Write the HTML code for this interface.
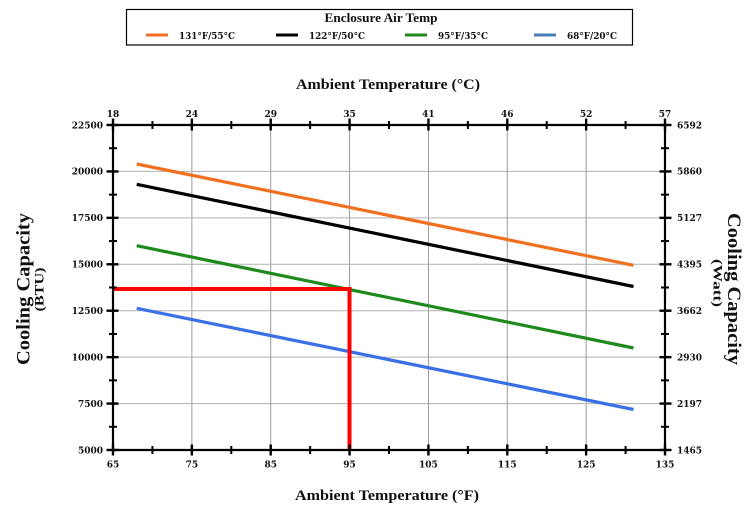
<!DOCTYPE html>
<html>
<head>
<meta charset="utf-8">
<style>
  html, body { margin:0; padding:0; background:#fff; }
  svg { display:block; }
  .tick { font-family: "DejaVu Serif", "Liberation Serif", serif; font-weight:bold; font-size:9px; fill:#111; }
  .ttl { font-family: "Liberation Serif", serif; font-weight:bold; fill:#111; }
</style>
</head>
<body>
<svg width="750" height="514" viewBox="0 0 750 514" xmlns="http://www.w3.org/2000/svg">
  <rect x="0" y="0" width="750" height="514" fill="#fff"/>

  <!-- Legend -->
  <rect x="126.5" y="9.5" width="506" height="35.5" fill="#fff" stroke="#000" stroke-width="1.2"/>
  <text class="ttl" x="381" y="22" font-size="13" text-anchor="middle" textLength="113" lengthAdjust="spacingAndGlyphs">Enclosure Air Temp</text>
  <line x1="146" y1="35" x2="168" y2="35" stroke="#F07020" stroke-width="3"/>
  <text class="tick" x="179" y="39" font-size="8.5" textLength="56" lengthAdjust="spacingAndGlyphs">131°F/55°C</text>
  <line x1="276" y1="35" x2="298" y2="35" stroke="#000" stroke-width="3"/>
  <text class="tick" x="309" y="39" font-size="8.5" textLength="56" lengthAdjust="spacingAndGlyphs">122°F/50°C</text>
  <line x1="405" y1="35" x2="427" y2="35" stroke="#1E8A1E" stroke-width="3"/>
  <text class="tick" x="438" y="39" font-size="8.5" textLength="50" lengthAdjust="spacingAndGlyphs">95°F/35°C</text>
  <line x1="534" y1="35" x2="556" y2="35" stroke="#4A7EBB" stroke-width="3"/>
  <text class="tick" x="567" y="39" font-size="8.5" textLength="50" lengthAdjust="spacingAndGlyphs">68°F/20°C</text>

  <!-- Axis titles -->
  <text class="ttl" x="388" y="89" font-size="15" text-anchor="middle" textLength="184" lengthAdjust="spacingAndGlyphs">Ambient Temperature (°C)</text>
  <text class="ttl" x="387" y="500" font-size="15" text-anchor="middle" textLength="184" lengthAdjust="spacingAndGlyphs">Ambient Temperature (°F)</text>

  <text class="ttl" font-size="18.5" text-anchor="middle" transform="translate(29.5,289) rotate(-90)" textLength="152" lengthAdjust="spacingAndGlyphs">Cooling Capacity</text>
  <text class="ttl" font-size="13" text-anchor="middle" transform="translate(43.5,289.5) rotate(-90)" textLength="44" lengthAdjust="spacingAndGlyphs">(BTU)</text>

  <text class="ttl" font-size="18.5" text-anchor="middle" transform="translate(728,289) rotate(90)" textLength="152" lengthAdjust="spacingAndGlyphs">Cooling Capacity</text>
  <text class="ttl" font-size="13" text-anchor="middle" transform="translate(713.5,283) rotate(90)" textLength="48" lengthAdjust="spacingAndGlyphs">(Watt)</text>

  <!-- Grid -->
  <g stroke="#9a9a9a" stroke-width="1">
    <line x1="191.86" y1="125" x2="191.86" y2="450"/>
    <line x1="270.71" y1="125" x2="270.71" y2="450"/>
    <line x1="349.57" y1="125" x2="349.57" y2="450"/>
    <line x1="428.43" y1="125" x2="428.43" y2="450"/>
    <line x1="507.29" y1="125" x2="507.29" y2="450"/>
    <line x1="586.14" y1="125" x2="586.14" y2="450"/>
  </g>
  <g stroke="#b0b0b0" stroke-width="1">
    <line x1="113" y1="171.43" x2="665" y2="171.43"/>
    <line x1="113" y1="217.86" x2="665" y2="217.86"/>
    <line x1="113" y1="264.29" x2="665" y2="264.29"/>
    <line x1="113" y1="310.71" x2="665" y2="310.71"/>
    <line x1="113" y1="357.14" x2="665" y2="357.14"/>
    <line x1="113" y1="403.57" x2="665" y2="403.57"/>
  </g>

  <!-- Series -->
  <g stroke-width="3.2" stroke-linecap="butt" fill="none">
    <line x1="136.7" y1="164" x2="633.5" y2="265.3" stroke="#F07020"/>
    <line x1="136.7" y1="184.3" x2="633.5" y2="286.5" stroke="#000"/>
    <line x1="136.7" y1="245.7" x2="633.5" y2="348" stroke="#1E8A1E"/>
    <line x1="136.7" y1="308.3" x2="633.5" y2="409.5" stroke="#3A6FE6"/>
  </g>

  <!-- Red marker -->
  <polyline points="113,289 349.5,289 349.5,450" fill="none" stroke="#FF0000" stroke-width="4"/>

  <!-- Axes -->
  <g stroke="#000" stroke-width="2.2" fill="none">
    <line x1="112" y1="125" x2="666" y2="125"/>
    <line x1="112" y1="450" x2="666" y2="450"/>
    <line x1="113" y1="124" x2="113" y2="451"/>
    <line x1="665" y1="124" x2="665" y2="451"/>
  </g>

  <!-- Ticks major (horizontal axes) -->
  <g stroke="#000" stroke-width="2.4">
    <line x1="113" y1="118.5" x2="113" y2="130.5"/><line x1="191.86" y1="118.5" x2="191.86" y2="130.5"/>
    <line x1="270.71" y1="118.5" x2="270.71" y2="130.5"/><line x1="349.57" y1="118.5" x2="349.57" y2="130.5"/>
    <line x1="428.43" y1="118.5" x2="428.43" y2="130.5"/><line x1="507.29" y1="118.5" x2="507.29" y2="130.5"/>
    <line x1="586.14" y1="118.5" x2="586.14" y2="130.5"/><line x1="665" y1="118.5" x2="665" y2="130.5"/>

    <line x1="113" y1="444.5" x2="113" y2="455.5"/><line x1="191.86" y1="444.5" x2="191.86" y2="455.5"/>
    <line x1="270.71" y1="444.5" x2="270.71" y2="455.5"/><line x1="349.57" y1="444.5" x2="349.57" y2="455.5"/>
    <line x1="428.43" y1="444.5" x2="428.43" y2="455.5"/><line x1="507.29" y1="444.5" x2="507.29" y2="455.5"/>
    <line x1="586.14" y1="444.5" x2="586.14" y2="455.5"/><line x1="665" y1="444.5" x2="665" y2="455.5"/>

    <line x1="106.5" y1="125" x2="118.5" y2="125"/><line x1="106.5" y1="171.43" x2="118.5" y2="171.43"/>
    <line x1="106.5" y1="217.86" x2="118.5" y2="217.86"/><line x1="106.5" y1="264.29" x2="118.5" y2="264.29"/>
    <line x1="106.5" y1="310.71" x2="118.5" y2="310.71"/><line x1="106.5" y1="357.14" x2="118.5" y2="357.14"/>
    <line x1="106.5" y1="403.57" x2="118.5" y2="403.57"/><line x1="106.5" y1="450" x2="118.5" y2="450"/>

    <line x1="659.5" y1="125" x2="671.5" y2="125"/><line x1="659.5" y1="171.43" x2="671.5" y2="171.43"/>
    <line x1="659.5" y1="217.86" x2="671.5" y2="217.86"/><line x1="659.5" y1="264.29" x2="671.5" y2="264.29"/>
    <line x1="659.5" y1="310.71" x2="671.5" y2="310.71"/><line x1="659.5" y1="357.14" x2="671.5" y2="357.14"/>
    <line x1="659.5" y1="403.57" x2="671.5" y2="403.57"/><line x1="659.5" y1="450" x2="671.5" y2="450"/>
  </g>
  <!-- Ticks minor -->
  <g stroke="#000" stroke-width="2">
    <line x1="152.43" y1="121" x2="152.43" y2="129"/><line x1="231.29" y1="121" x2="231.29" y2="129"/>
    <line x1="310.14" y1="121" x2="310.14" y2="129"/><line x1="389" y1="121" x2="389" y2="129"/>
    <line x1="467.86" y1="121" x2="467.86" y2="129"/><line x1="546.71" y1="121" x2="546.71" y2="129"/>
    <line x1="625.57" y1="121" x2="625.57" y2="129"/>

    <line x1="152.43" y1="446" x2="152.43" y2="454"/><line x1="231.29" y1="446" x2="231.29" y2="454"/>
    <line x1="310.14" y1="446" x2="310.14" y2="454"/><line x1="389" y1="446" x2="389" y2="454"/>
    <line x1="467.86" y1="446" x2="467.86" y2="454"/><line x1="546.71" y1="446" x2="546.71" y2="454"/>
    <line x1="625.57" y1="446" x2="625.57" y2="454"/>

    <line x1="109" y1="148.21" x2="117" y2="148.21"/><line x1="109" y1="194.64" x2="117" y2="194.64"/>
    <line x1="109" y1="241.07" x2="117" y2="241.07"/><line x1="109" y1="287.5" x2="117" y2="287.5"/>
    <line x1="109" y1="333.93" x2="117" y2="333.93"/><line x1="109" y1="380.36" x2="117" y2="380.36"/>
    <line x1="109" y1="426.79" x2="117" y2="426.79"/>

    <line x1="661" y1="148.21" x2="669" y2="148.21"/><line x1="661" y1="194.64" x2="669" y2="194.64"/>
    <line x1="661" y1="241.07" x2="669" y2="241.07"/><line x1="661" y1="287.5" x2="669" y2="287.5"/>
    <line x1="661" y1="333.93" x2="669" y2="333.93"/><line x1="661" y1="380.36" x2="669" y2="380.36"/>
    <line x1="661" y1="426.79" x2="669" y2="426.79"/>
  </g>

  <!-- Top tick labels (°C) -->
  <g class="tick" text-anchor="middle">
    <text x="113" y="117">18</text><text x="191.86" y="117">24</text>
    <text x="270.71" y="117">29</text><text x="349.57" y="117">35</text>
    <text x="428.43" y="117">41</text><text x="507.29" y="117">46</text>
    <text x="586.14" y="117">52</text><text x="665" y="117">57</text>
  </g>
  <!-- Bottom tick labels (°F) -->
  <g class="tick" text-anchor="middle">
    <text x="113" y="467.5">65</text><text x="191.86" y="467.5">75</text>
    <text x="270.71" y="467.5">85</text><text x="349.57" y="467.5">95</text>
    <text x="428.43" y="467.5">105</text><text x="507.29" y="467.5">115</text>
    <text x="586.14" y="467.5">125</text><text x="665" y="467.5">135</text>
  </g>
  <!-- Left tick labels -->
  <g class="tick" text-anchor="end">
    <text x="103" y="128.3">22500</text><text x="103" y="174.7">20000</text>
    <text x="103" y="221.2">17500</text><text x="103" y="267.6">15000</text>
    <text x="103" y="314">12500</text><text x="103" y="360.4">10000</text>
    <text x="103" y="406.9">7500</text><text x="103" y="453.3">5000</text>
  </g>
  <!-- Right tick labels -->
  <g class="tick" text-anchor="start">
    <text x="677" y="128.3">6592</text><text x="677" y="174.7">5860</text>
    <text x="677" y="221.2">5127</text><text x="677" y="267.6">4395</text>
    <text x="677" y="314">3662</text><text x="677" y="360.4">2930</text>
    <text x="677" y="406.9">2197</text><text x="677" y="453.3">1465</text>
  </g>
</svg>
</body>
</html>
